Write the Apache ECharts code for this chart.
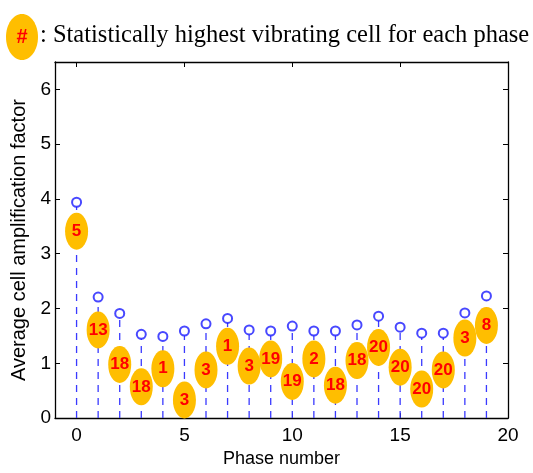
<!DOCTYPE html>
<html>
<head>
<meta charset="utf-8">
<script src="https://cdn.jsdelivr.net/npm/echarts@6/dist/echarts.min.js"></script>
<style>html,body{margin:0;padding:0;background:#fff;}#c{width:533px;height:473px;}</style>
</head>
<body>
<div id="c"></div>
<script>
const phases = [0,1,2,3,4,5,6,7,8,9,10,11,12,13,14,15,16,17,18,19];
const amplification = [3.94,2.21,1.91,1.53,1.49,1.59,1.72,1.82,1.61,1.59,1.68,1.59,1.59,1.70,1.86,1.66,1.55,1.55,1.92,2.23];
const cellPos = [3.41,1.61,0.98,0.57,0.90,0.33,0.88,1.31,0.95,1.08,0.67,1.08,0.60,1.05,1.29,0.93,0.53,0.88,1.46,1.69];
const cellLabels = ['5','13','18','18','1','3','3','1','3','19','19','2','18','18','20','20','20','20','3','8'];
const xTicks = [0,5,10,15,20];
const yTicks = [0,1,2,3,4,5,6];

const chart = echarts.init(document.getElementById('c'));
const axisFont = {fontFamily:'Liberation Sans, Arial', fontSize:19, color:'#000'};
const tickStyle = {color:'#000',width:1};
chart.setOption({
  animation:false,
  backgroundColor:'#fff',
  grid:{left:55,right:25,top:62,bottom:52},
  xAxis:[{
    type:'value', min:-1, max:20,
    axisLine:{onZero:false,lineStyle:{color:'#000',width:1.3}},
    axisTick:{inside:true,length:5,customValues:xTicks,lineStyle:tickStyle},
    axisLabel:{customValues:xTicks,margin:8,...axisFont},
    splitLine:{show:false},
    name:'Phase number', nameLocation:'middle', nameGap:31,
    nameTextStyle:{fontFamily:'Liberation Sans, Arial',fontSize:18,color:'#000'}
  },{
    type:'value', min:-1, max:20, position:'top',
    axisLine:{onZero:false,lineStyle:{color:'#000',width:1.3}},
    axisTick:{inside:true,length:5,customValues:xTicks,lineStyle:tickStyle},
    axisLabel:{show:false}, splitLine:{show:false}
  }],
  yAxis:[{
    type:'value', min:0, max:6.5, interval:1,
    axisLine:{show:true,onZero:false,lineStyle:{color:'#000',width:1.3}},
    axisTick:{show:true,inside:true,length:5,customValues:yTicks,lineStyle:tickStyle},
    axisLabel:{customValues:yTicks,margin:4,...axisFont},
    splitLine:{show:false},
    name:'Average cell amplification factor', nameLocation:'middle', nameGap:26,
    nameTextStyle:{fontFamily:'Liberation Sans, Arial',fontSize:20,color:'#000'}
  },{
    type:'value', min:0, max:6.5, position:'right',
    axisLine:{show:true,onZero:false,lineStyle:{color:'#000',width:1.3}},
    axisTick:{show:true,inside:true,length:5,customValues:yTicks,lineStyle:tickStyle},
    axisLabel:{show:false}, splitLine:{show:false}
  }],
  series:[
    {
      type:'custom',
      data: phases.map((p,i)=>[p,amplification[i]]),
      renderItem:function(params,api){
        const p0 = api.coord([api.value(0),0]);
        const p1 = api.coord([api.value(0),api.value(1)]);
        return {type:'line',shape:{x1:p0[0],y1:p0[1],x2:p1[0],y2:p1[1]+4.5},
          style:{stroke:'#3a3aff',lineWidth:1.3,lineDash:[7,6]}};
      },
      z:1
    },
    {
      type:'scatter',
      data: phases.map((p,i)=>[p,amplification[i]]),
      symbol:'emptyCircle', symbolSize:9,
      itemStyle:{color:'#1a1aff',borderColor:'#1a1aff',borderWidth:1.2},
      z:3
    },
    {
      type:'scatter',
      data: phases.map((p,i)=>({value:[p,cellPos[i]],label:{formatter:cellLabels[i]}})),
      symbol:'circle', symbolSize:[23,37],
      itemStyle:{color:'#FFBE00',opacity:1},
      label:{show:true,position:'inside',color:'#FF0000',fontWeight:'bold',fontFamily:'Liberation Sans, Arial',fontSize:17},
      z:4
    }
  ],
  graphic:[
    {type:'ellipse',shape:{cx:22,cy:37,rx:16,ry:23},style:{fill:'#FFBE00'}},
    {type:'text',style:{x:22,y:37,text:'#',fill:'#FF0000',font:'bold 20px "Liberation Sans", Arial',align:'center',verticalAlign:'middle'}},
    {type:'text',style:{x:40,y:36,text:': Statistically highest vibrating cell for each phase',fill:'#000',font:'24.5px "Liberation Serif", "Times New Roman"',verticalAlign:'middle'}}
  ]
});
</script>
</body>
</html>
